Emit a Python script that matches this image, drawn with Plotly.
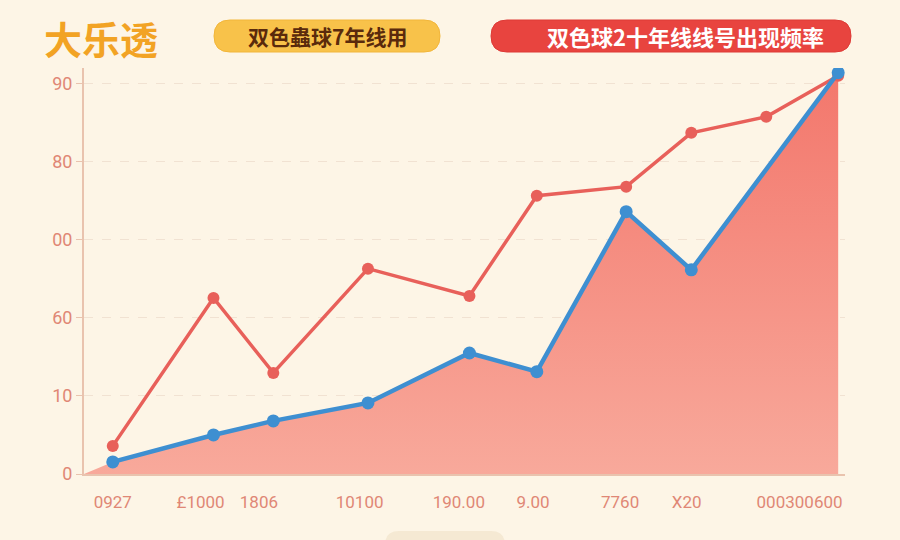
import plotly.graph_objects as go

# ---- data ----
x_red = [3.8, 17.1, 25.0, 37.5, 50.9, 59.8, 71.6, 80.2, 90.1, 99.6]
y_red = [7.2, 45.1, 25.9, 52.6, 45.6, 71.3, 73.6, 87.4, 91.5, 102.0]
x_blue = [3.8, 17.1, 25.0, 37.5, 50.9, 59.8, 71.6, 80.2, 99.6]
y_blue = [3.1, 10.0, 13.6, 18.2, 31.0, 26.2, 67.2, 52.3, 102.8]
x_tickvals = [3.8, 15.4, 23.1, 36.4, 49.5, 59.3, 70.8, 79.6, 94.5]
x_ticktext = ["0927", "£1000", "1806", "10100", "190.00", "9.00", "7760", "X20", "000300600"]
y_tickvals = [0, 20, 40, 60, 80, 100]
y_ticktext = ["0", "10", "60", "00", "80", "90"]

BG = "#FDF5E6"
L, R, T, B = 84, 55, 68, 66
W, H = 900, 540
PW, PH = W - L - R, H - T - B

def px(xp):
    return (xp - L) / PW

def py(yp):
    return (H - B - yp) / PH

def pill(x0, y0, x1, y1, r):
    X0, X1 = px(x0), px(x1)
    Y0, Y1 = py(y0), py(y1)
    rx = r / PW
    ry = r / PH
    return (f"M{X0+rx},{Y0} L{X1-rx},{Y0} Q{X1},{Y0} {X1},{Y0-ry} "
            f"L{X1},{Y1+ry} Q{X1},{Y1} {X1-rx},{Y1} L{X0+rx},{Y1} "
            f"Q{X0},{Y1} {X0},{Y1+ry} L{X0},{Y0-ry} Q{X0},{Y0} {X0+rx},{Y0} Z")

fig = go.Figure()

fig.add_trace(go.Scatter(
    x=[0] + x_blue, y=[0] + y_blue, mode="lines",
    line=dict(width=0, color="rgba(0,0,0,0)"),
    fill="tozeroy",
    fillgradient=dict(type="vertical",
                      colorscale=[[0, "#F8A99B"], [1, "#F3776C"]]),
    hoverinfo="skip", showlegend=False,
))
fig.add_trace(go.Scatter(
    x=x_red, y=y_red, mode="lines+markers",
    line=dict(color="#E8605A", width=3.5),
    marker=dict(color="#E8605A", size=12),
    showlegend=False,
))
fig.add_trace(go.Scatter(
    x=x_blue, y=y_blue, mode="lines+markers",
    line=dict(color="#3E8FD1", width=4.5),
    marker=dict(color="#3E8FD1", size=13),
    showlegend=False,
))

shapes = [
    dict(type="path", xref="paper", yref="paper", path=pill(214, 20, 440, 52, 16),
         fillcolor="#F8C24A", line=dict(color="#F2B63A", width=1), layer="above"),
    dict(type="path", xref="paper", yref="paper", path=pill(491, 20, 851, 52, 16),
         fillcolor="#E8443F", line=dict(color="#DE3A36", width=1), layer="above"),
    dict(type="path", xref="paper", yref="paper", path=pill(385, 531, 505, 560, 14),
         fillcolor="#F5E9D3", line=dict(width=0), layer="below"),
]

annotations = [
    dict(xref="paper", yref="paper", x=px(42), y=py(38), xanchor="left", yanchor="middle",
         text="<b>大乐透</b>", showarrow=False,
         font=dict(family="Noto Sans CJK SC", size=38, color="#F2A324")),
    dict(xref="paper", yref="paper", x=px(327), y=py(36), xanchor="center", yanchor="middle",
         text="<b>双色蟲球7年线用</b>", showarrow=False,
         font=dict(family="Noto Sans CJK SC", size=21, color="#5A2A0C")),
    dict(xref="paper", yref="paper", x=px(685), y=py(36), xanchor="center", yanchor="middle",
         text="<b>双色球2十年线线号出现频率</b>", showarrow=False,
         font=dict(family="Noto Sans CJK SC", size=22, color="#FFFFFF")),
]

fig.update_layout(
    width=W, height=H,
    margin=dict(l=L, r=R, t=T, b=B),
    paper_bgcolor=BG, plot_bgcolor=BG,
    shapes=shapes, annotations=annotations,
    xaxis=dict(range=[0, 100.5], tickvals=x_tickvals, ticktext=x_ticktext,
               showgrid=False, zeroline=False, showline=True,
               linecolor="#E9C3AE", linewidth=2, ticks="",
               ticklabelstandoff=12,
               tickfont=dict(family="Liberation Sans Narrow, Roboto", size=17, color="#E08775")),
    yaxis=dict(range=[0, 104], tickvals=y_tickvals, ticktext=y_ticktext,
               showgrid=True, gridcolor="#F1E2D2", griddash="dash", gridwidth=1,
               zeroline=False, showline=True, linecolor="#E9C3AE", linewidth=2,
               ticks="outside", ticklen=6, tickcolor="#E9C3AE",
               tickfont=dict(family="Roboto", size=18, color="#E08775")),
    hovermode=False,
)

fig.write_html("out.html", config={"displayModeBar": False},
               post_script="document.body.style.margin='0';document.body.style.background='#FDF5E6';")
